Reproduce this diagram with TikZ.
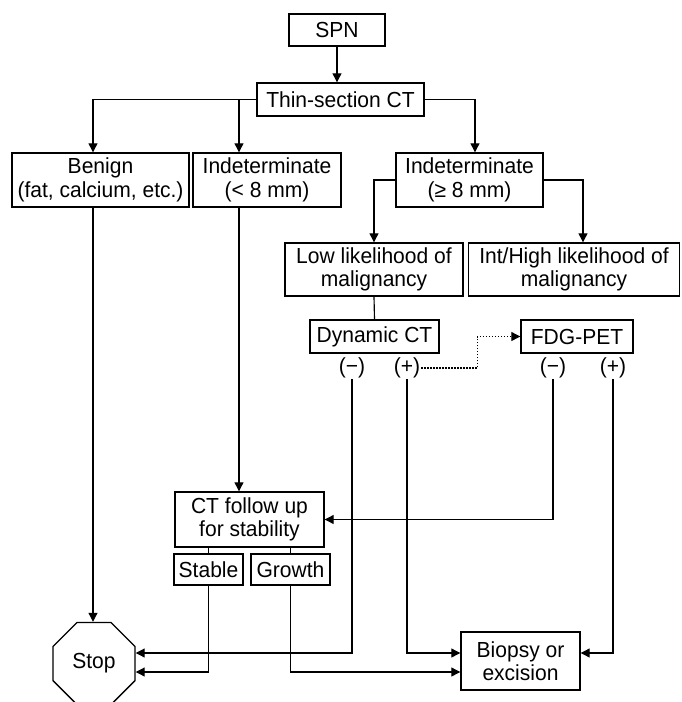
\documentclass[tikz,border=0pt]{standalone}
\usepackage{fontspec}
\setmainfont[FakeStretch=0.965]{Liberation Sans}
\usetikzlibrary{arrows.meta,shapes.geometric,calc}

\begin{document}
\begin{tikzpicture}[x=1pt,y=-1pt,
  font=\fontsize{21.8}{23.5}\selectfont,
  box/.style={draw,line width=1.4pt,align=center,inner sep=0pt},
  lab/.style={inner sep=1pt},
  link/.style={line width=1.15pt},
  arr/.style={link,-{Triangle[length=9pt,width=9pt]}},
  dotarr/.style={arr,dash pattern=on 1.5pt off 1.5pt}]

\useasboundingbox (0,0) rectangle (681,702);

% boxes
\node[box,minimum width=96pt,minimum height=32pt]  (spn)   at (337,30)    {SPN};
\node[box,minimum width=167pt,minimum height=33pt] (thin)  at (340.5,99.5){Thin-section CT};
\node[box,minimum width=177pt,minimum height=54pt] (ben)   at (100.5,180) {Benign\\(fat, calcium, etc.)};
\node[box,minimum width=148pt,minimum height=54pt] (ilt)   at (267,180)   {Indeterminate\\(< 8 mm)};
\node[box,minimum width=147pt,minimum height=54pt] (ige)   at (469.5,180) {Indeterminate\\(≥ 8 mm)};
\node[box,minimum width=178pt,minimum height=53pt] (low)   at (374,269.5) {Low likelihood of\\malignancy};
\node[box,minimum width=211pt,minimum height=53pt] (high)  at (574,269.5) {Int/High likelihood of\\malignancy};
\node[box,minimum width=129pt,minimum height=33pt] (dyn)   at (374.5,336.5) {Dynamic CT};
\node[box,minimum width=112pt,minimum height=33pt] (pet)   at (577,336.5) {FDG-PET};
\node[box,minimum width=149pt,minimum height=55pt] (ctf)   at (249.5,519.5) {CT follow up\\for stability};
\node[box,minimum width=69pt,minimum height=31pt]  (stab)  at (208.5,569.5) {Stable};
\node[box,minimum width=79pt,minimum height=31pt]  (grow)  at (290.5,569.5) {Growth};
\node[box,minimum width=119pt,minimum height=58pt] (bio)   at (520.5,661) {Biopsy or\\excision};
\node[draw,line width=1.4pt,regular polygon,regular polygon sides=8,
      minimum size=88.8pt,inner sep=0pt] (stop) at (94,663.5) {Stop};

% result labels
\node[lab] (dm) at (352,368) {(−)};
\node[lab] (dp) at (407,368) {(+)};
\node[lab] (pm) at (553,368) {(−)};
\node[lab] (pp) at (613,368) {(+)};

% connectors
\draw[arr] (spn.south) -- (spn.south |- thin.north);
\draw[arr] (thin.west) -| ([xshift=-7.5pt]ben.north);
\draw[arr] ([xshift=-28pt]ilt.north |- thin.west) -- ([xshift=-28pt]ilt.north);
\draw[arr] (thin.east) -| ([xshift=5.5pt]ige.north);
\draw[arr] (ige.west) -| (low.north);
\draw[arr] (ige.east) -| ([xshift=9pt]high.north);
\draw[link] (low.south) -- (dyn.north);
\draw[dotarr] (dp.east) -- ++(56,0) |- (pet.west);

\draw[arr] ([xshift=-7.5pt]ben.south) -- ([xshift=-7.5pt]ben.south |- stop.north);
\draw[arr] ([xshift=-28pt]ilt.south) -- ([xshift=-28pt]ilt.south |- ctf.north);
\draw[arr] (pm.south) |- (ctf.east);
\draw[link] (stab.north) -- (stab.north |- ctf.south);
\draw[link] (grow.north) -- (grow.north |- ctf.south);

\draw[arr] (dm.south) |- ([yshift=10.5pt]stop.east);
\draw[arr] (stab.south) |- ([yshift=-8.5pt]stop.east);
\draw[arr] (dp.south) |- ([yshift=8pt]bio.west);
\draw[arr] (grow.south) |- ([yshift=-11pt]bio.west);
\draw[arr] (pp.south) |- ([yshift=8pt]bio.east);

\end{tikzpicture}
\end{document}
